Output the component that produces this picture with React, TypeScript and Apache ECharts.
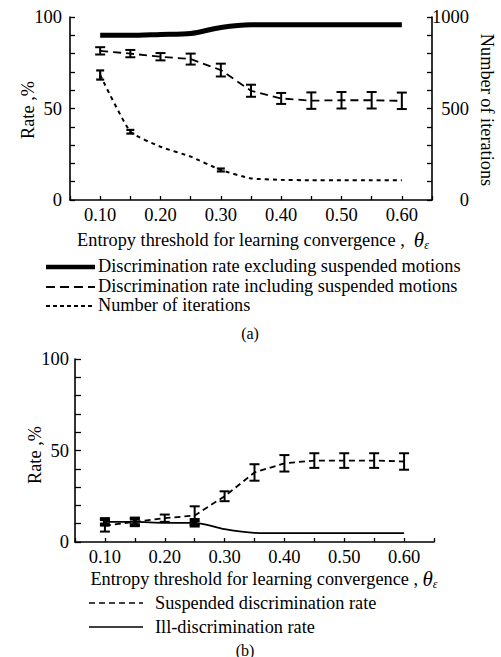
import React, { useEffect, useRef } from "react";
import * as echarts from "echarts";

// ---- data (a) ----
const thetaA = [0.1, 0.15, 0.2, 0.25, 0.3, 0.35, 0.4, 0.45, 0.5, 0.55, 0.6];
const rateExcluding = [90, 90, 90.5, 91, 94.3, 95.8, 95.8, 95.8, 95.8, 95.8, 95.8];
const rateIncluding = [81.5, 80, 78.3, 77, 71, 59.7, 55.5, 54.3, 54.5, 54.5, 54.2];
const rateIncludingErr = [2, 2, 2, 3, 3.5, 3.3, 3, 4.5, 4.5, 4.5, 4.5];
const iterations = [683, 373, 291, 237, 164, 118, 110, 108, 108, 108, 108];
const iterationsErr = [25, 10, 0, 0, 8, 0, 0, 0, 0, 0, 0];

// ---- data (b) ----
const thetaB = [0.1, 0.15, 0.2, 0.25, 0.3, 0.35, 0.4, 0.45, 0.5, 0.55, 0.6];
const suspended = [9, 11, 13, 14.5, 25, 38, 43, 44.5, 44.5, 44.5, 44];
const suspendedErr = [3.3, 2, 2, 5, 2.7, 4.5, 4.5, 4, 4, 4, 4.5];
const illDisc = [11, 11, 10.5, 10.5, 7, 5, 4.8, 4.8, 4.8, 4.8, 4.8];
const illDiscErr = [1.5, 1.8, 0, 1.5, 0, 0, 0, 0, 0, 0, 0];

const xTickLabels = ["0.10", "0.20", "0.30", "0.40", "0.50", "0.60"];
const rateTickLabels = ["0", "50", "100"];
const iterTickLabels = ["0", "500", "1000"];

const FONT = "Liberation Serif";
const FS = 18.3;

function errData(xs: number[], ys: number[], es: number[]) {
  const out: number[][] = [];
  xs.forEach((x, i) => {
    if (es[i] > 0) out.push([x, ys[i] - es[i], ys[i] + es[i]]);
  });
  return out;
}

function errRender(capW: number, lw: number) {
  return (params: any, api: any) => {
    const x = api.value(0);
    const lo = api.coord([x, api.value(1)]);
    const hi = api.coord([x, api.value(2)]);
    const st = { stroke: "#000", lineWidth: lw };
    return {
      type: "group",
      children: [
        { type: "line", shape: { x1: lo[0], y1: lo[1], x2: hi[0], y2: hi[1] }, style: st },
        { type: "line", shape: { x1: lo[0] - capW, y1: lo[1], x2: lo[0] + capW, y2: lo[1] }, style: st },
        { type: "line", shape: { x1: hi[0] - capW, y1: hi[1], x2: hi[0] + capW, y2: hi[1] }, style: st },
      ],
    };
  };
}

const pair = (xs: number[], ys: number[]) => xs.map((x, i) => [x, ys[i]]);

const xLabelFmt = (v: number) => {
  const k = Math.round(v * 100);
  const s = (k / 100).toFixed(2);
  return xTickLabels.includes(s) ? s : "";
};
const fmtFrom = (labels: string[]) => (v: number) => {
  const s = String(Math.round(v));
  return labels.includes(s) ? s : "";
};

const axisLine = { show: true, lineStyle: { color: "#000", width: 1.6 } };
const labelBase = { color: "#000", fontFamily: FONT, fontSize: 18.5 };

export default function App() {
  const ref = useRef<HTMLDivElement>(null);
  useEffect(() => {
    if (!ref.current) return;
    const chart = echarts.init(ref.current, undefined, { renderer: "svg" });
    const xAxisCommon = (gi: number) => ({
      type: "value",
      gridIndex: gi,
      min: 0.05,
      max: 0.65,
      interval: 0.05,
      axisLine,
      axisTick: { show: true, inside: true, length: 4, lineStyle: { color: "#000", width: 1.3 } },
      splitLine: { show: false },
      axisLabel: { ...labelBase, margin: 5, formatter: xLabelFmt, showMinLabel: true, showMaxLabel: true },
    });
    const titleRich = {
      t: { fontFamily: FONT, fontSize: 21, fontStyle: "italic", fill: "#000" },
      s: { fontFamily: FONT, fontSize: 12, fontStyle: "italic", fill: "#000", padding: [9, 0, 0, 0] },
    };
    const txt = (x: number, y: number, text: string, extra: any = {}) => ({
      type: "text",
      x,
      y,
      style: {
        text,
        fontFamily: FONT,
        fontSize: FS,
        fill: "#000",
        textVerticalAlign: "middle",
        ...extra,
      },
    });
    const rot = (x: number, y: number, text: string, r: number, fs: number) => ({
      type: "text",
      x,
      y,
      rotation: r,
      style: {
        text,
        fontFamily: FONT,
        fontSize: fs,
        fill: "#000",
        textAlign: "center",
        textVerticalAlign: "middle",
      },
    });
    const seg = (x1: number, x2: number, y: number, w: number, dash: any) => ({
      type: "line",
      shape: { x1, y1: y, x2, y2: y },
      style: { stroke: "#000", lineWidth: w, lineDash: dash },
    });

    chart.setOption({
      animation: false,
      backgroundColor: "#fff",
      grid: [
        { left: 70, right: 69, top: 17, height: 183 },
        { left: 75, right: 67, top: 359, height: 183 },
      ],
      xAxis: [xAxisCommon(0), xAxisCommon(1)],
      yAxis: [
        {
          type: "value",
          gridIndex: 0,
          min: 0,
          max: 100,
          interval: 10,
          axisLine,
          axisTick: { show: true, inside: true, length: 5, lineStyle: { color: "#000", width: 1.3 } },
          splitLine: { show: false },
          axisLabel: { ...labelBase, margin: 8, formatter: fmtFrom(rateTickLabels) },
        },
        {
          type: "value",
          gridIndex: 0,
          position: "right",
          min: 0,
          max: 1000,
          interval: 100,
          axisLine,
          axisTick: { show: true, inside: true, length: 5, lineStyle: { color: "#000", width: 1.3 } },
          splitLine: { show: false },
          axisLabel: { ...labelBase, margin: 37, align: "right", formatter: fmtFrom(iterTickLabels) },
        },
        {
          type: "value",
          gridIndex: 1,
          min: 0,
          max: 100,
          interval: 10,
          axisLine,
          axisTick: { show: true, inside: true, length: 6, lineStyle: { color: "#000", width: 1.3 } },
          splitLine: { show: false },
          axisLabel: { ...labelBase, margin: 6, formatter: fmtFrom(rateTickLabels) },
        },
      ],
      series: [
        {
          type: "line",
          xAxisIndex: 0,
          yAxisIndex: 0,
          data: pair(thetaA, rateExcluding),
          smooth: 0.3,
          showSymbol: false,
          lineStyle: { color: "#000", width: 5 },
        },
        {
          type: "line",
          xAxisIndex: 0,
          yAxisIndex: 0,
          data: pair(thetaA, rateIncluding),
          showSymbol: false,
          lineStyle: { color: "#000", width: 1.8, type: [8, 5] },
        },
        {
          type: "custom",
          xAxisIndex: 0,
          yAxisIndex: 0,
          data: errData(thetaA, rateIncluding, rateIncludingErr),
          encode: { x: 0, y: [1, 2] },
          renderItem: errRender(5, 2),
        },
        {
          type: "line",
          xAxisIndex: 0,
          yAxisIndex: 1,
          data: pair(thetaA, iterations),
          smooth: 0.15,
          showSymbol: false,
          lineStyle: { color: "#000", width: 2, type: [4, 4] },
        },
        {
          type: "custom",
          xAxisIndex: 0,
          yAxisIndex: 1,
          data: errData(thetaA, iterations, iterationsErr),
          encode: { x: 0, y: [1, 2] },
          renderItem: errRender(4, 2.2),
        },
        {
          type: "line",
          xAxisIndex: 1,
          yAxisIndex: 2,
          data: pair(thetaB, suspended),
          showSymbol: false,
          lineStyle: { color: "#000", width: 1.8, type: [6, 4] },
        },
        {
          type: "custom",
          xAxisIndex: 1,
          yAxisIndex: 2,
          data: errData(thetaB, suspended, suspendedErr),
          encode: { x: 0, y: [1, 2] },
          renderItem: errRender(5, 2),
        },
        {
          type: "line",
          xAxisIndex: 1,
          yAxisIndex: 2,
          data: pair(thetaB, illDisc),
          smooth: 0.3,
          showSymbol: false,
          lineStyle: { color: "#000", width: 1.7 },
        },
        {
          type: "custom",
          xAxisIndex: 1,
          yAxisIndex: 2,
          data: errData(thetaB, illDisc, illDiscErr),
          encode: { x: 0, y: [1, 2] },
          renderItem: errRender(5, 4),
        },
      ],
      graphic: [
        rot(28, 110, "Rate ,%", Math.PI / 2, FS),
        rot(487, 110, "Number of iterations", -Math.PI / 2, FS),
        {
          type: "text",
          x: 253,
          y: 240,
          style: {
            text: "Entropy threshold for learning convergence ,  {t|θ}{s|ε}",
            rich: titleRich,
            fontFamily: FONT,
            fontSize: FS,
            fill: "#000",
            textAlign: "center",
            textVerticalAlign: "middle",
          },
        },
        seg(46, 95, 267, 4.5, null),
        seg(46, 95, 287, 1.8, [9, 5]),
        seg(46, 95, 306, 1.8, [4, 3]),
        txt(98, 266, "Discrimination rate excluding suspended motions"),
        txt(98, 286, "Discrimination rate including suspended motions"),
        txt(98, 305, "Number of iterations"),
        txt(250, 333, "(a)", { textAlign: "center", fontSize: 16 }),
        rot(35, 455, "Rate ,%", Math.PI / 2, FS),
        {
          type: "text",
          x: 264,
          y: 579,
          style: {
            text: "Entropy threshold for learning convergence , {t|θ}{s|ε}",
            rich: titleRich,
            fontFamily: FONT,
            fontSize: FS,
            fill: "#000",
            textAlign: "center",
            textVerticalAlign: "middle",
          },
        },
        seg(89, 143, 603, 1.6, [6, 4]),
        seg(89, 143, 627, 1.6, null),
        txt(155, 603, "Suspended discrimination rate"),
        txt(155, 627, "Ill-discrimination rate"),
        txt(245, 650, "(b)", { textAlign: "center", fontSize: 16 }),
      ],
    });
    return () => chart.dispose();
  }, []);
  return (
    <div
      ref={ref}
      style={{ position: "absolute", left: 0, top: 0, width: 501, height: 657 }}
    />
  );
}
